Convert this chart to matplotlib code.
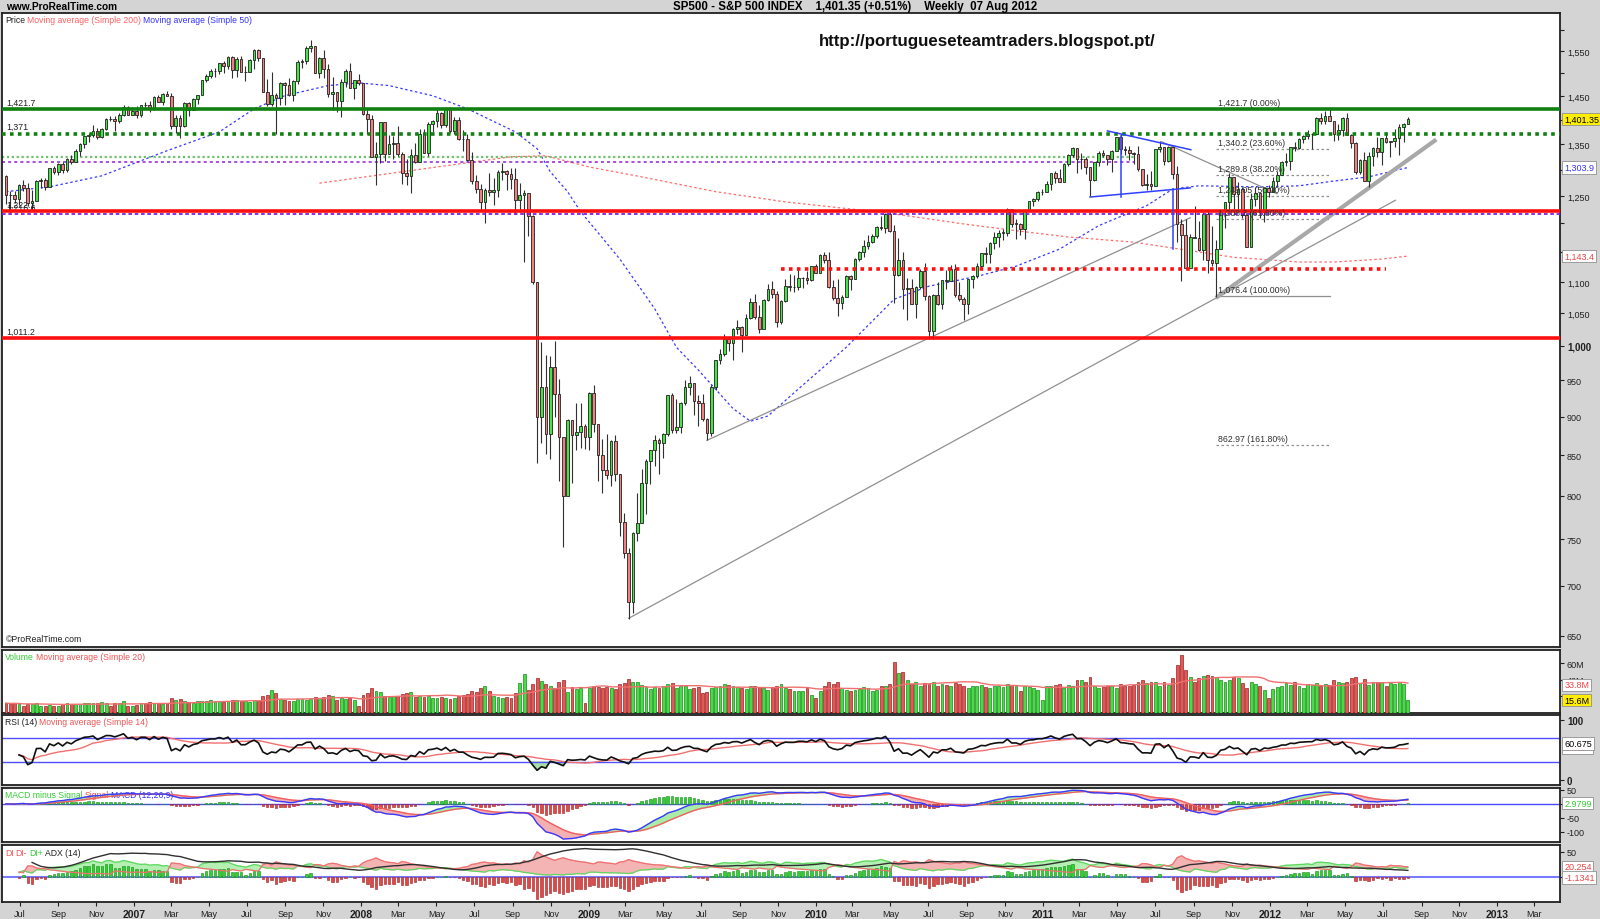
import numpy as np
import pandas as pd
import matplotlib
matplotlib.use('Agg')
import matplotlib.pyplot as plt
import matplotlib.dates as mdates
from matplotlib.transforms import Affine2D

plt.rcParams['font.family'] = ['Liberation Sans', 'DejaVu Sans']

# weekly S&P 500 bars, first bar = week ending 2006-06-09
first_open = 1288.0
closes_2006 = [1252.3, 1251.5, 1244.5, 1270.2, 1265.5, 1236.2, 1240.3, 1278.6, 1279.4, 1266.7,
               1302.3, 1295.1, 1311.0, 1299.0, 1321.2, 1314.8, 1335.9, 1349.6, 1365.6, 1368.6,
               1377.3, 1364.3, 1380.9, 1401.2, 1400.9, 1396.7, 1409.8, 1427.1, 1410.8, 1418.3]
highs_2006 = [1290, 1260, 1260, 1272, 1280, 1274, 1262, 1280, 1283, 1283, 1302, 1306, 1312, 1315, 1322,
              1328, 1340, 1352, 1366, 1372, 1389, 1382, 1383, 1403, 1407, 1407, 1415, 1431, 1428, 1427]
lows_2006 = [1235, 1219, 1237, 1234, 1260, 1232, 1224, 1240, 1265, 1261, 1266, 1292, 1290, 1294, 1295,
             1310, 1314, 1327, 1342, 1355, 1364, 1360, 1363, 1378, 1397, 1377, 1394, 1408, 1409, 1409]

closes_2007 = [1409.7, 1430.7, 1430.5, 1422.2, 1448.4, 1438.1, 1455.5, 1451.2, 1387.2, 1402.8,
               1386.9, 1436.1, 1420.9, 1443.8, 1452.9, 1484.4, 1494.1, 1505.6, 1505.9, 1522.8,
               1515.7, 1536.3, 1507.7, 1532.9, 1502.6, 1503.4, 1530.4, 1552.5, 1534.1, 1458.9,
               1433.1, 1453.6, 1445.9, 1479.4, 1473.9, 1453.6, 1484.2, 1525.8, 1526.8, 1557.6,
               1561.8, 1500.6, 1535.3, 1509.7, 1453.7, 1458.7, 1440.7, 1481.1, 1504.7, 1467.9,
               1484.5, 1478.5]
highs_2007 = [1429, 1432, 1437, 1440, 1450, 1453, 1457, 1461, 1456, 1410, 1410, 1438, 1437, 1446, 1453,
              1485, 1498, 1510, 1513, 1523, 1529, 1540, 1540, 1538, 1540, 1517, 1533, 1556, 1555, 1534,
              1488, 1504, 1456, 1480, 1481, 1490, 1485, 1530, 1532, 1562, 1576, 1563, 1536, 1552, 1520,
              1493, 1460, 1488, 1510, 1523, 1485, 1499]
lows_2007 = [1403, 1405, 1424, 1416, 1420, 1437, 1432, 1450, 1380, 1373, 1363, 1386, 1408, 1420, 1433,
             1452, 1480, 1490, 1491, 1498, 1500, 1509, 1490, 1491, 1502, 1484, 1503, 1509, 1529, 1458,
             1430, 1429, 1370, 1432, 1432, 1451, 1440, 1477, 1512, 1521, 1548, 1500, 1490, 1490, 1448,
             1420, 1417, 1406, 1469, 1467, 1445, 1474]

closes_2008 = [1411.6, 1401.0, 1325.2, 1330.6, 1395.4, 1331.3, 1350.0, 1353.1, 1330.6, 1293.4,
               1288.1, 1329.5, 1315.2, 1370.4, 1332.8, 1390.3, 1397.8, 1413.9, 1388.3, 1425.4,
               1375.9, 1400.4, 1360.7, 1360.0, 1317.9, 1278.4, 1262.9, 1239.5, 1260.7, 1257.8,
               1260.3, 1296.3, 1298.2, 1292.2, 1282.8, 1242.3, 1251.7, 1255.1, 1213.3, 1099.2,
               899.2, 940.6, 876.8, 968.8, 931.0, 873.3, 800.0, 896.2, 876.1, 879.7, 887.9, 872.8]
highs_2008 = [1471, 1421, 1410, 1355, 1396, 1396, 1368, 1367, 1388, 1335, 1321, 1341, 1353, 1380, 1380,
              1395, 1400, 1422, 1416, 1426, 1427, 1406, 1405, 1378, 1370, 1334, 1290, 1273, 1265, 1293,
              1284, 1300, 1313, 1300, 1304, 1304, 1274, 1262, 1255, 1215, 1099, 1006, 986, 985, 1007,
              952, 873, 897, 896, 919, 919, 890]
lows_2008 = [1411, 1370, 1325, 1270, 1312, 1316, 1330, 1321, 1326, 1272, 1270, 1256, 1312, 1315, 1332,
             1326, 1375, 1385, 1383, 1386, 1373, 1370, 1358, 1336, 1317, 1272, 1256, 1225, 1200, 1250,
             1234, 1248, 1280, 1262, 1263, 1217, 1220, 1133, 1178, 1097, 840, 866, 852, 845, 900,
             818, 741, 800, 815, 857, 859, 858]

closes_2009 = [931.8, 890.4, 850.1, 832.0, 825.9, 868.6, 826.8, 770.1, 735.1, 683.4,
               756.6, 768.5, 815.9, 842.5, 856.6, 869.6, 866.2, 877.5, 929.2, 882.9,
               887.0, 919.1, 940.1, 946.2, 921.2, 918.9, 896.4, 879.1, 940.4, 979.3,
               987.5, 1010.5, 1004.1, 1026.1, 1028.9, 1016.4, 1042.7, 1068.3, 1044.4, 1025.2,
               1071.5, 1087.7, 1079.6, 1036.2, 1069.3, 1093.5, 1091.4, 1091.5, 1106.0, 1106.4,
               1102.5, 1126.5, 1115.1]
highs_2009 = [934, 943, 890, 871, 877, 870, 876, 827, 780, 740, 758, 804, 833, 845, 857, 876, 872, 878,
              930, 933, 924, 920, 951, 956, 946, 930, 931, 898, 943, 979, 996, 1018, 1013, 1027, 1039,
              1030, 1048, 1074, 1080, 1063, 1072, 1097, 1101, 1085, 1071, 1105, 1113, 1112, 1120, 1108,
              1118, 1127, 1130]
lows_2009 = [857, 880, 818, 804, 821, 812, 818, 754, 730, 666, 672, 748, 768, 779, 814, 836, 826, 847,
             875, 878, 879, 878, 916, 930, 903, 888, 895, 869, 875, 936, 974, 985, 992, 979, 1018,
             991, 1016, 1041, 1041, 1019, 1025, 1069, 1074, 1029, 1033, 1067, 1085, 1084, 1086, 1090,
             1096, 1102, 1115]

closes_2010 = [1145.0, 1136.0, 1091.8, 1073.9, 1066.2, 1075.5, 1109.2, 1104.5, 1138.7, 1150.0,
               1159.9, 1166.6, 1178.1, 1194.4, 1192.1, 1217.3, 1186.7, 1110.9, 1135.7, 1087.7,
               1089.4, 1064.9, 1091.6, 1117.5, 1076.8, 1022.6, 1078.0, 1064.9, 1102.7, 1101.6,
               1121.6, 1079.3, 1071.7, 1064.6, 1104.5, 1109.6, 1125.6, 1148.7, 1146.2, 1165.2,
               1176.2, 1183.1, 1183.3, 1225.9, 1199.2, 1199.7, 1189.4, 1224.7, 1240.4, 1243.9,
               1256.8, 1257.6]
highs_2010 = [1146, 1150, 1150, 1103, 1105, 1078, 1112, 1112, 1139, 1152, 1170, 1180, 1182, 1195, 1213,
              1218, 1220, 1197, 1174, 1150, 1106, 1105, 1094, 1121, 1131, 1079, 1080, 1100, 1103, 1120,
              1128, 1129, 1100, 1075, 1105, 1111, 1131, 1149, 1158, 1168, 1185, 1189, 1190, 1227, 1226,
              1207, 1200, 1226, 1241, 1247, 1259, 1263]
lows_2010 = [1115, 1131, 1090, 1071, 1045, 1056, 1075, 1086, 1105, 1134, 1141, 1156, 1165, 1175, 1188,
             1183, 1185, 1066, 1110, 1056, 1040, 1064, 1043, 1088, 1071, 1011, 1011, 1063, 1056, 1088,
             1102, 1076, 1069, 1040, 1048, 1090, 1106, 1121, 1131, 1131, 1156, 1159, 1170, 1177, 1194,
             1173, 1180, 1173, 1222, 1232, 1241, 1251]

closes_2011 = [1271.5, 1293.2, 1283.4, 1276.3, 1310.9, 1329.2, 1343.0, 1319.9, 1321.2, 1304.3,
               1279.2, 1313.8, 1332.4, 1328.2, 1319.7, 1337.4, 1363.6, 1340.2, 1337.8, 1333.3,
               1331.1, 1300.2, 1271.0, 1271.5, 1268.5, 1339.7, 1343.8, 1316.1, 1345.0, 1292.3,
               1199.4, 1178.8, 1123.5, 1176.8, 1174.0, 1154.2, 1216.0, 1136.4, 1131.4, 1155.5,
               1224.6, 1238.3, 1285.1, 1253.2, 1263.9, 1215.7, 1158.7, 1244.3, 1255.2, 1219.7,
               1265.3, 1257.6]
highs_2011 = [1278, 1294, 1297, 1302, 1312, 1330, 1344, 1342, 1332, 1325, 1302, 1315, 1337, 1339, 1328,
              1338, 1364, 1370, 1346, 1346, 1334, 1346, 1301, 1292, 1298, 1341, 1356, 1344, 1347, 1347,
              1307, 1208, 1208, 1182, 1231, 1205, 1220, 1222, 1195, 1171, 1224, 1239, 1293, 1285, 1277,
              1266, 1216, 1255, 1267, 1255, 1265, 1270]
lows_2011 = [1257, 1262, 1275, 1276, 1276, 1307, 1324, 1294, 1302, 1291, 1249, 1279, 1306, 1324, 1309,
             1295, 1337, 1331, 1329, 1319, 1311, 1297, 1268, 1262, 1262, 1268, 1334, 1309, 1315, 1282,
             1168, 1101, 1121, 1124, 1174, 1152, 1136, 1115, 1127, 1075, 1155, 1191, 1221, 1215, 1226,
             1209, 1158, 1158, 1231, 1209, 1203, 1248]

closes_2012 = [1277.8, 1289.1, 1315.4, 1316.3, 1344.9, 1342.6, 1361.2, 1365.7, 1370.0, 1370.9,
               1404.2, 1397.1, 1408.5, 1398.1, 1370.3, 1378.5, 1403.4, 1369.1, 1353.4, 1295.2,
               1317.8, 1278.0, 1325.7, 1342.8, 1335.0, 1362.2, 1354.7, 1356.8, 1362.7, 1386.0,
               1391.0, 1401.35]
highs_2012 = [1285, 1297, 1316, 1333, 1345, 1354, 1363, 1368, 1379, 1372, 1405, 1414, 1419, 1422, 1398,
              1392, 1406, 1415, 1370, 1354, 1321, 1335, 1335, 1345, 1364, 1363, 1375, 1357, 1380, 1391,
              1394, 1405]
lows_2012 = [1258, 1269, 1290, 1306, 1300, 1337, 1341, 1352, 1361, 1340, 1370, 1391, 1391, 1398, 1357,
             1358, 1367, 1368, 1343, 1291, 1292, 1278, 1266, 1306, 1324, 1309, 1352, 1325, 1345, 1329,
             1354, 1391]

# weekly volume, millions
vol_2006 = [12, 11, 12, 11, 9, 11, 11, 12, 9, 9, 10, 9, 8, 11, 12, 11, 11, 11, 12, 12,
            12, 12, 13, 12, 8, 12, 12, 14, 9, 8]
vol_2007 = [10, 12, 12, 13, 12, 12, 11, 12, 18, 16, 17, 15, 13, 12, 14, 15, 15, 16, 14, 15,
            13, 15, 16, 16, 15, 14, 13, 16, 15, 21, 22, 28, 24, 17, 16, 14, 15, 17, 17, 16,
            17, 19, 18, 19, 22, 20, 16, 18, 17, 18, 16, 8]
vol_2008 = [22, 24, 30, 26, 25, 21, 19, 20, 21, 23, 24, 25, 19, 20, 19, 21, 18, 18, 19, 18,
            17, 18, 20, 22, 23, 26, 25, 30, 33, 27, 20, 19, 18, 19, 18, 24, 36, 47, 28, 35,
            42, 39, 35, 33, 30, 37, 40, 25, 31, 29, 30, 12]
vol_2009 = [30, 33, 31, 30, 31, 30, 29, 35, 36, 41, 38, 37, 34, 31, 29, 31, 30, 32, 35, 36,
            30, 32, 33, 29, 30, 31, 24, 25, 30, 31, 32, 35, 34, 33, 31, 30, 29, 33, 32, 31,
            30, 28, 31, 33, 35, 30, 29, 27, 26, 27, 30, 22, 18]
vol_2010 = [27, 32, 38, 35, 37, 30, 28, 27, 28, 29, 31, 30, 26, 28, 32, 33, 35, 62, 48, 50,
            40, 35, 38, 33, 36, 35, 37, 33, 35, 34, 33, 36, 35, 33, 30, 32, 33, 34, 31, 30,
            32, 33, 31, 35, 34, 32, 26, 32, 31, 30, 28, 16]
vol_2011 = [33, 32, 34, 35, 30, 34, 32, 40, 40, 37, 43, 33, 30, 31, 33, 32, 30, 35, 32, 33,
            34, 38, 40, 36, 38, 37, 33, 37, 34, 42, 58, 70, 52, 44, 38, 42, 45, 46, 45, 44,
            40, 38, 40, 44, 42, 36, 30, 38, 35, 33, 28, 18]
vol_2012 = [29, 31, 33, 36, 34, 37, 33, 30, 35, 34, 36, 33, 35, 34, 40, 38, 36, 37, 42, 44,
            36, 41, 34, 37, 38, 37, 33, 36, 35, 37, 35, 15.6]

# moving averages (week number from first bar, value)
ma50_week = [0, 10, 22, 37, 49, 57, 64, 74, 81, 88, 98, 106, 117, 122, 125, 129, 132, 141, 149, 154,
             159, 167, 171, 175, 182, 193, 204, 212, 223, 232, 242, 251, 262, 268, 274, 288, 297, 305,
             313, 322]
ma50_val = [1258, 1267, 1288, 1337, 1375, 1423, 1451, 1473, 1479, 1473, 1451, 1423, 1375, 1341, 1296,
            1258, 1221, 1138, 1057, 998, 965, 911, 894, 901, 938, 998, 1072, 1093, 1109, 1126, 1155,
            1196, 1232, 1263, 1269, 1267, 1269, 1278, 1286, 1304]
ma200_week = [72, 116, 124, 134, 146, 163, 179, 194, 204, 220, 232, 244, 259, 274, 282, 297, 305, 316, 322]
ma200_val = [1274, 1325, 1327, 1305, 1286, 1258, 1239, 1226, 1217, 1199, 1187, 1176, 1167, 1150, 1141,
             1133, 1133, 1138, 1143]

# horizontal levels
lvl_green = 1421.7
lvl_green_dot = 1371
lvl_lightgreen = 1325
lvl_purple_hi = 1315
lvl_red = 1222.1
lvl_purple_lo = 1216.6
lvl_red_dot = 1121
lvl_red_low = 1011.2

# fibonacci retracement 1076.4 -> 1421.7
fib_vals = [1421.7, 1340.2, 1289.8, 1249.05, 1208.3, 1076.4, 862.97]
fib_text = ['1,421.7 (0.00%)', '1,340.2 (23.60%)', '1,289.8 (38.20%)', '1,249.05 (50.00%)',
            '1,208.3 (61.80%)', '1,076.4 (100.00%)', '862.97 (161.80%)']

# trend lines: (start date, start price, end date, end price)
trend_thin = [('2009-03-06', 666.8, '2012-07-21', 1242),
              ('2009-07-10', 869, '2011-08-26', 1210),
              ('2011-07-11', 1355, '2012-01-13', 1254)]
trend_thick = [('2011-10-09', 1076, '2012-09-22', 1357)]
blue_lines = [('2011-04-15', 1377, '2011-08-27', 1339),
              ('2011-03-18', 1248, '2011-08-26', 1265),
              ('2011-05-06', 1248, '2011-05-06', 1367),
              ('2011-07-29', 1155, '2011-07-29', 1263)]

# ---------------------------------------------------------------------------
closes = closes_2006 + closes_2007 + closes_2008 + closes_2009 + closes_2010 + closes_2011 + closes_2012
highs = highs_2006 + highs_2007 + highs_2008 + highs_2009 + highs_2010 + highs_2011 + highs_2012
lows = lows_2006 + lows_2007 + lows_2008 + lows_2009 + lows_2010 + lows_2011 + lows_2012
volume = vol_2006 + vol_2007 + vol_2008 + vol_2009 + vol_2010 + vol_2011 + vol_2012

df = pd.DataFrame({'close': closes, 'high': highs, 'low': lows, 'vol': volume})
df['open'] = [first_open] + closes[:-1]
df['high'] = df[['high', 'open', 'close']].max(axis=1)
df['low'] = df[['low', 'open', 'close']].min(axis=1)
df.index = pd.date_range('2006-06-09', periods=len(df), freq='7D')
x = mdates.date2num(df.index.to_pydatetime())
base = x[0]
up = (df.close >= df.open).values

# indicators
delta = df.close - df.open
gain = delta.clip(lower=0).ewm(alpha=1 / 14, min_periods=4).mean()
loss = (-delta.clip(upper=0)).ewm(alpha=1 / 14, min_periods=4).mean()
rsi = 100 - 100 / (1 + gain / loss)
rsi_ma = rsi.rolling(14, min_periods=1).mean()

ema12 = df.close.ewm(span=12, adjust=False).mean()
ema26 = df.close.ewm(span=26, adjust=False).mean()
macd = ema12 - ema26
signal = macd.ewm(span=9, adjust=False).mean()
hist = macd - signal

prev_c = df.close.shift(1).fillna(df.open)
prev_h = df.high.shift(1)
prev_l = df.low.shift(1)
upm = df.high - prev_h
dnm = prev_l - df.low
pdm = pd.Series(np.where((upm > dnm) & (upm > 0), upm, 0.0), index=df.index)
mdm = pd.Series(np.where((dnm > upm) & (dnm > 0), dnm, 0.0), index=df.index)
tr = pd.concat([df.high - df.low, (df.high - prev_c).abs(), (df.low - prev_c).abs()], axis=1).max(axis=1)
atr = tr.ewm(alpha=1 / 14, min_periods=4).mean()
pdi = 100 * pdm.ewm(alpha=1 / 14, min_periods=4).mean() / atr
mdi = 100 * mdm.ewm(alpha=1 / 14, min_periods=4).mean() / atr
dx = 100 * (pdi - mdi).abs() / (pdi + mdi)
adx = dx.ewm(alpha=1 / 14, min_periods=4).mean()
di = pdi - mdi
vol_ma = df.vol.rolling(20, min_periods=1).mean()

# ---------------------------------------------------------------------------
W, H = 1600., 920.
fig = plt.figure(figsize=(16, 9.2), dpi=100, facecolor='#d4d4d4')


def panel(top, bot):
    a = fig.add_axes([2 / W, 1 - bot / H, 1558 / W, (bot - top) / H])
    a.set_facecolor('white')
    for s in a.spines.values():
        s.set_color('#202020')
        s.set_linewidth(1.3)
    a.yaxis.tick_right()
    a.tick_params(axis='y', which='both', direction='out', length=3, pad=2,
                  labelsize=6.5, colors='#202020')
    a.tick_params(axis='x', which='both', bottom=False, labelbottom=False)
    return a


ax_p = panel(14, 648)
ax_v = panel(651, 714)
ax_r = panel(716, 786)
ax_m = panel(789, 843)
ax_d = panel(846, 903)
xlim = (base - 6.4, base + 2498.6)
for a in (ax_p, ax_v, ax_r, ax_m, ax_d):
    a.set_xlim(*xlim)

renderer = fig.canvas.get_renderer()


def rainbow(ax, parts, dx=3, dy=-7, size=6.2):
    trans = ax.transAxes + Affine2D().translate(dx, dy)
    for s, col in parts:
        t = ax.text(0, 1, s, color=col, transform=trans, fontsize=size, va='center', ha='left')
        ex = t.get_window_extent(renderer=renderer)
        trans = trans + Affine2D().translate(ex.width + 2, 0)


def vbox(ax, val, text, fc='white', tc='black'):
    ax.annotate(text, xy=(1.0, val), xycoords=('axes fraction', 'data'), xytext=(3, 0),
                textcoords='offset points', va='center', ha='left', fontsize=6.5, color=tc,
                bbox=dict(boxstyle='square,pad=0.2', fc=fc, ec='#909090', lw=0.6),
                annotation_clip=False, zorder=10)


GREEN, RED, BLUE = '#33cc33', '#ee5555', '#3333ff'

# ---- price panel
ax_p.set_yscale('log')
ax_p.set_ylim(639, 1641)
ax_p.vlines(x, df.low, df.high, color='#303030', lw=0.8, zorder=3)
body_low = np.minimum(df.open, df.close)
body_h = np.maximum((df.close - df.open).abs(), 0.8)
ax_p.bar(x, body_h, bottom=body_low, width=4.3, color=np.where(up, '#44e444', '#f08080'),
         edgecolor='#202020', linewidth=0.6, zorder=4)

ax_p.plot(base + 7 * np.array(ma50_week), ma50_val, color='#3a3aff', lw=0.9, ls=(0, (2, 2)), zorder=2)
ax_p.plot(base + 7 * np.array(ma200_week), ma200_val, color='#ff6a6a', lw=0.9, ls=(0, (2, 2)), zorder=2)

ax_p.axhline(lvl_green, color='#108010', lw=2.6, zorder=5)
ax_p.axhline(lvl_green_dot, color='#108010', lw=2.6, ls=(0, (1, 1.2)), zorder=5)
d_end = mdates.datestr2num('2011-05-28')
ax_p.plot([xlim[0], d_end], [lvl_lightgreen] * 2, color='#70c070', lw=1.6, ls=(0, (1, 1.2)), zorder=2)
ax_p.plot([xlim[0], d_end], [lvl_purple_hi] * 2, color='#9020d0', lw=1.1, ls=(0, (2, 2)), zorder=2)
ax_p.axhline(lvl_red, color='#ff1010', lw=2.6, zorder=5)
ax_p.axhline(lvl_purple_lo, color='#8020e0', lw=1.3, ls=(0, (2, 1.5)), zorder=5)
ax_p.plot(mdates.datestr2num(['2009-11-06', '2012-07-06']), [lvl_red_dot] * 2,
          color='#ff1010', lw=2.6, ls=(0, (1, 1.2)), zorder=5)
ax_p.axhline(lvl_red_low, color='#ff1010', lw=2.6, zorder=5)

for v, s in [(lvl_green, '1,421.7'), (lvl_green_dot, '1,371'), (lvl_red, '1,222.1'),
             (lvl_purple_lo, '1,216.6'), (lvl_red_low, '1,011.2')]:
    ax_p.annotate(s, xy=(0, v), xycoords=('axes fraction', 'data'), xytext=(3, 2),
                  textcoords='offset points', fontsize=6.3, va='bottom', ha='left', color='#202020')

f0, f1 = mdates.datestr2num(['2011-10-07', '2012-04-06'])
for v, s in zip(fib_vals, fib_text):
    if v != fib_vals[0]:
        ax_p.plot([f0, f1], [v, v], color='#909090', lw=0.9,
                  ls='-' if v == 1076.4 else (0, (2, 2)), zorder=2)
    ax_p.annotate(s, xy=(f0, v), xytext=(1, 1.5), textcoords='offset points', fontsize=6.3,
                  va='bottom', ha='left', color='#303030', zorder=6)

for d0, p0, d1, p1 in trend_thin:
    ax_p.plot(mdates.datestr2num([d0, d1]), [p0, p1], color='#909090', lw=0.9, zorder=2)
for d0, p0, d1, p1 in trend_thick:
    ax_p.plot(mdates.datestr2num([d0, d1]), [p0, p1], color='#a8a8a8', lw=3, zorder=2)
for d0, p0, d1, p1 in blue_lines:
    ax_p.plot(mdates.datestr2num([d0, d1]), [p0, p1], color='#3040ff', lw=1.1, zorder=6)

ax_p.text(0.524, 0.957, 'http://portugueseteamtraders.blogspot.pt/', transform=ax_p.transAxes,
          fontsize=12.2, weight='bold', va='center', ha='left', color='#101010')
ax_p.text(4 / 1558, 0.006, '\u00a9ProRealTime.com', transform=ax_p.transAxes, fontsize=6.3,
          va='bottom', ha='left', color='#202020')
rainbow(ax_p, [('Price', '#202020'), ('Moving average (Simple 200)', '#ff6060'),
               ('Moving average (Simple 50)', BLUE)])

p_lab = [650, 700, 750, 800, 850, 900, 950, 1000, 1050, 1100, 1250, 1350, 1450, 1550]
p_blank = [1150, 1200, 1300, 1400, 1500, 1600]
ax_p.yaxis.set_minor_locator(matplotlib.ticker.NullLocator())
ax_p.set_yticks(p_lab + p_blank)
ax_p.set_yticklabels(['{:,}'.format(v) for v in p_lab] + [''] * len(p_blank))
for t in ax_p.get_yticklabels():
    if t.get_text() == '1,000':
        t.set_fontweight('bold')
        t.set_fontsize(7)
vbox(ax_p, 1401.35, '1,401.35', fc='#ffee00')
vbox(ax_p, 1303.9, '1,303.9', tc='#3333ff')
vbox(ax_p, 1143.4, '1,143.4', tc='#ee4444')

# ---- volume panel
ax_v.set_ylim(0, 76)
ax_v.bar(x, df.vol, width=4.6, color=np.where(up, '#44dd44', '#e05858'),
         edgecolor=np.where(up, '#1a8a1a', '#a02020'), linewidth=0.5, zorder=3)
ax_v.plot(x, vol_ma, color='#f07070', lw=1, zorder=4)
ax_v.set_yticks([20, 40, 60])
ax_v.set_yticklabels(['20M', '40M', '60M'])
vbox(ax_v, 33.8, '33.8M', tc='#ee4444')
vbox(ax_v, 15.6, '15.6M', fc='#ffee00')
rainbow(ax_v, [('Volume', GREEN), ('Moving average (Simple 20)', RED)])

# ---- RSI panel
ax_r.set_ylim(-8.3, 108.3)
ax_r.axhline(70, color='#5050ff', lw=1)
ax_r.axhline(30, color='#5050ff', lw=1)
ax_r.fill_between(x, rsi, 30, where=(rsi < 30), color='#a8e0a8', interpolate=True)
ax_r.plot(x, rsi_ma, color='#f07070', lw=1)
ax_r.plot(x, rsi, color='#101010', lw=1.2)
ax_r.set_yticks([0, 100])
ax_r.set_yticklabels(['0', '100'], fontweight='bold', fontsize=7)
vbox(ax_r, 54.5, '54.118', tc='#ee4444')
vbox(ax_r, 60.675, '60.675')
rainbow(ax_r, [('RSI (14)', '#202020'), ('Moving average (Simple 14)', RED)])

# ---- MACD panel
ax_m.set_ylim(-136, 57)
ax_m.axhline(0, color='#4a4aff', lw=1, zorder=2)
ax_m.bar(x, hist, width=4.0, color=np.where(hist >= 0, '#30d030', '#e04848'),
         edgecolor=np.where(hist >= 0, '#188818', '#a02020'), linewidth=0.4, zorder=3)
ax_m.fill_between(x, macd, signal, where=(macd >= signal), color='#a8eca8', interpolate=True, zorder=2)
ax_m.fill_between(x, macd, signal, where=(macd < signal), color='#f4b0b0', interpolate=True, zorder=2)
ax_m.plot(x, signal, color='#f06060', lw=1, zorder=4)
ax_m.plot(x, macd, color='#3a3aff', lw=1, zorder=4)
ax_m.set_yticks([-100, -50, 0, 50])
ax_m.set_yticklabels(['-100', '-50', '', '50'])
vbox(ax_m, 2.9799, '2.9799', tc='#33cc33')
rainbow(ax_m, [('MACD minus Signal', GREEN), ('Signal', RED), ('MACD (12,26,9)', BLUE)])

# ---- DI / ADX panel
ax_d.set_ylim(-50, 64)
ax_d.axhline(0, color='#7a7aff', lw=1.5, zorder=2)
ax_d.bar(x, di, width=4.0, color=np.where(di >= 0, '#30d030', '#e04848'),
         edgecolor=np.where(di >= 0, '#188818', '#a02020'), linewidth=0.4, zorder=3)
ax_d.fill_between(x, pdi, mdi, where=(pdi >= mdi), color='#b4f0b4', interpolate=True, zorder=1)
ax_d.fill_between(x, pdi, mdi, where=(pdi < mdi), color='#f4b4b4', interpolate=True, zorder=1)
ax_d.plot(x, pdi, color='#60d860', lw=0.9, zorder=4)
ax_d.plot(x, mdi, color='#f07070', lw=0.9, zorder=4)
ax_d.plot(x, adx, color='#303030', lw=1, zorder=4)
ax_d.set_yticks([0, 50])
ax_d.set_yticklabels(['', '50'])
vbox(ax_d, 20.254, '20.254', tc='#ee4444')
vbox(ax_d, -1.1341, '-1.1341', tc='#ee4444')
rainbow(ax_d, [('DI', RED), ('DI-', RED), ('DI+', GREEN), ('ADX (14)', '#202020')])

# ---- time axis
tick_dates = pd.date_range('2006-07-01', '2013-03-01', freq='2MS')
ax_d.set_xticks(mdates.date2num(tick_dates.to_pydatetime()))
ax_d.set_xticklabels([str(d.year) if d.month == 1 else d.strftime('%b') for d in tick_dates])
ax_d.tick_params(axis='x', bottom=True, labelbottom=True, direction='out', length=3,
                 labelsize=6.5, pad=2, colors='#202020')
for t in ax_d.get_xticklabels():
    if t.get_text().isdigit():
        t.set_fontweight('bold')
        t.set_fontsize(7.5)

# ---- header
fig.text(6 / W, 1 - 7 / H, 'www.ProRealTime.com', fontsize=7.3, weight='bold', va='center', ha='left')
fig.text(673 / W, 1 - 7 / H, 'SP500 - S&P 500 INDEX    1,401.35 (+0.51%)    Weekly  07 Aug 2012',
         fontsize=8.3, weight='bold', va='center', ha='left')

fig.savefig('out.png', dpi=100, facecolor=fig.get_facecolor())
